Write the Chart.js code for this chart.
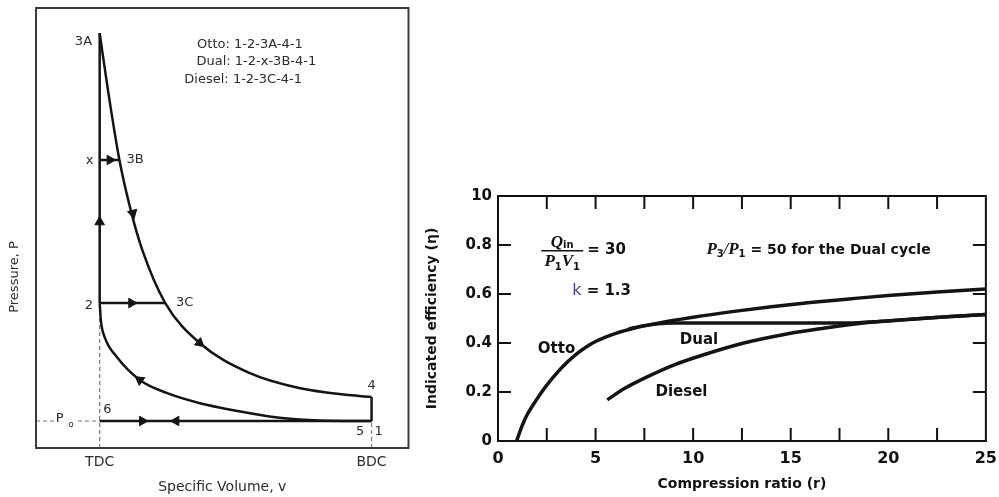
<!DOCTYPE html>
<html>
<head>
<meta charset="utf-8">
<script src="https://cdn.jsdelivr.net/npm/chart.js@4/dist/chart.umd.min.js"></script>
<style>
    body { margin: 0; background: #fff; width: 999px; height: 497px; overflow: hidden; position: relative; }
    #pv { position: absolute; left: 0; top: 0; }
    #eff { position: absolute; left: 415px; top: 0; }
</style>
</head>
<body>
<canvas id="pv" width="415" height="497"></canvas>
<canvas id="eff" width="590" height="497"></canvas>
<script>
// ---- left panel: P-v diagram (arbitrary units, TDC volume = 1, Po = 1)
var tdcV = 1.0
var bdcV = 5.27
var po = 1.0
var p2 = 5.37
var px = 10.67
var p3A = 15.37
var p4 = 1.89
var v3B = 1.31
var v3C = 2.03

var expV = [1.0, 1.13, 1.31, 1.50, 1.67, 2.03, 2.57, 3.35, 4.13, 4.91, 5.27]
var expP = [15.37, 13.26, 10.67, 8.70, 7.33, 5.37, 3.89, 2.78, 2.22, 1.96, 1.89]
var compV = [1.0, 1.02, 1.08, 1.27, 1.63, 2.05, 2.56, 3.34, 3.86, 4.44, 5.27]
var compP = [5.37, 4.7, 4.1, 3.37, 2.52, 2.04, 1.67, 1.30, 1.11, 1.02, 1.0]

var arrowV = [1.0, 1.16, 1.52, 1.50, 2.57, 1.63, 1.67, 2.20]
var arrowP = [8.37, 10.67, 8.70, 5.37, 3.89, 2.52, 1.0, 1.0]
var arrowDir = [0, 90, 166, 90, 130, 306, 90, 270]

var cycleLines = ['Otto: 1-2-3A-4-1', 'Dual: 1-2-x-3B-4-1', 'Diesel: 1-2-3C-4-1']

// ---- right panel: indicated efficiency vs compression ratio
var ottoR = [0.95, 1.25, 1.5, 2, 2.5, 3, 3.5, 4, 4.5, 5, 6, 7, 8, 10, 12, 14, 16, 18, 20, 22.5, 25]
var ottoEta = [0, 0.065, 0.108, 0.172, 0.228, 0.276, 0.318, 0.354, 0.383, 0.406, 0.438, 0.461, 0.478, 0.505, 0.528, 0.548, 0.565, 0.58, 0.594, 0.608, 0.62]
var dualR = [6.7, 7.5, 8.2, 9, 10, 12, 15, 17.5, 18.5, 19.5, 21.5, 23, 25]
var dualEta = [0.458, 0.471, 0.479, 0.482, 0.482, 0.482, 0.482, 0.482, 0.483, 0.488, 0.499, 0.507, 0.516]
var dieselR = [5.6, 6.5, 7.7, 9, 10.3, 12.6, 14.6, 16.5, 18.5, 20, 21.5, 23, 25]
var dieselEta = [0.168, 0.215, 0.264, 0.31, 0.346, 0.40, 0.434, 0.458, 0.48, 0.49, 0.499, 0.507, 0.516]
var yTickLabels = ['0', '0.2', '0.4', '0.6', '0.8', '10']

var black = '#141414'

function pts(xs, ys) {
    return xs.map((x, i) => ({ x: x, y: ys[i] }))
}

function seg(data, extra) {
    return Object.assign({
        data: data, showLine: true, fill: false,
        borderColor: black, borderWidth: 2.5, pointRadius: 0
    }, extra || {})
}

function drawRuns(c, x, y, parts) {
    parts.forEach(p => {
        c.font = p[1]
        c.fillText(p[0], x, y + (p[2] || 0))
        x += c.measureText(p[0]).width
    })
    return x
}

function runsWidth(c, parts) {
    var w = 0
    parts.forEach(p => { c.font = p[1]; w += c.measureText(p[0]).width })
    return w
}

var pvDecor = {
    id: 'pvDecor',
    afterDraw(chart) {
        var c = chart.ctx, a = chart.chartArea
        var X = v => chart.scales.x.getPixelForValue(v)
        var Y = p => chart.scales.y.getPixelForValue(p)
        c.save()
        c.strokeStyle = '#3a3a3a'
        c.lineWidth = 2
        c.strokeRect(a.left, a.top, a.right - a.left, a.bottom - a.top)

        // gap in the Po dashed line
        c.fillStyle = '#fff'
        c.fillRect(X(0.3), Y(po) - 8, X(0.63) - X(0.3), 16)

        c.fillStyle = '#2c2c2c'
        c.textBaseline = 'middle'
        c.font = '13px "DejaVu Sans"'
        var starts = [2.53, 2.52, 2.33]
        var heights = [14.96, 14.3, 13.63]
        cycleLines.forEach((t, i) => {
            c.textAlign = 'left'
            c.fillText(t, X(starts[i]), Y(heights[i]))
        })

        c.font = '13px "DejaVu Sans"'
        c.textAlign = 'right'
        c.fillText('3A', X(0.88), Y(15.07))
        c.textAlign = 'center'
        c.fillText('x', X(0.84), Y(10.63))
        c.fillText('2', X(0.83), Y(5.26))
        c.fillText('6', X(1.12), Y(1.41))
        c.fillText('4', X(bdcV), Y(2.3))
        c.fillText('5', X(5.09), Y(0.6))
        c.fillText('1', X(5.38), Y(0.6))
        c.textAlign = 'left'
        c.fillText('3B', X(1.42), Y(10.67))
        c.fillText('3C', X(2.2), Y(5.4))

        c.textAlign = 'center'
        c.font = '14px "DejaVu Sans"'
        c.fillText('TDC', X(tdcV), Y(-0.52))
        c.fillText('BDC', X(bdcV), Y(-0.52))
        c.fillText('Specific Volume, v', (a.left + a.right) / 2, 487)

        c.font = '13px "DejaVu Sans"'
        c.fillText('P', X(0.37), Y(po) - 2)
        c.font = '9px "DejaVu Sans"'
        c.fillText('o', X(0.55), Y(po) + 4)

        c.translate(15, 277)
        c.rotate(-Math.PI / 2)
        c.font = '13px "DejaVu Sans"'
        c.fillText('Pressure, P', 0, 0)
        c.restore()
    }
}

var effDecor = {
    id: 'effDecor',
    afterDraw(chart) {
        var c = chart.ctx, a = chart.chartArea
        var X = r => chart.scales.x.getPixelForValue(r)
        var Y = e => chart.scales.y.getPixelForValue(e)
        c.save()
        c.strokeStyle = '#111'
        c.lineWidth = 2
        c.strokeRect(a.left, a.top, a.right - a.left, a.bottom - a.top)
        c.beginPath()
        for (var r = 2.5; r < 25; r += 2.5) {
            c.moveTo(X(r), a.bottom); c.lineTo(X(r), a.bottom - 13)
            c.moveTo(X(r), a.top); c.lineTo(X(r), a.top + 13)
        }
        for (var k = 1; k <= 4; k++) {
            var e = k * 0.2
            c.moveTo(a.left, Y(e)); c.lineTo(a.left + 13, Y(e))
            c.moveTo(a.right, Y(e)); c.lineTo(a.right - 13, Y(e))
        }
        c.stroke()

        c.fillStyle = '#111'
        c.textBaseline = 'middle'
        c.textAlign = 'center'
        c.font = 'bold 15px "DejaVu Sans"'
        c.fillText('Otto', X(3.0), Y(0.375))
        c.fillText('Dual', X(10.3), Y(0.41))
        c.fillText('Diesel', X(9.4), Y(0.2))

        // Qin / (P1 V1) = 30
        c.textAlign = 'left'
        c.textBaseline = 'alphabetic'
        var serif = 'italic bold 17px "Liberation Serif"'
        var sub = 'bold 10px "DejaVu Sans"'
        var lineY = Y(0.777)
        var cx = X(3.29)
        var num = [['Q', serif], ['in', sub, 1]]
        var den = [['P', serif], ['1', sub, 4], ['V', serif], ['1', sub, 4]]
        drawRuns(c, cx - runsWidth(c, num) / 2, lineY - 4, num)
        drawRuns(c, cx - runsWidth(c, den) / 2, lineY + 15, den)
        c.lineWidth = 1.5
        c.beginPath()
        c.moveTo(cx - 21, lineY); c.lineTo(cx + 21, lineY)
        c.stroke()
        c.textBaseline = 'middle'
        c.font = 'bold 15px "DejaVu Sans"'
        c.fillText('= 30', X(4.57), lineY - 1)

        // k = 1.3
        c.fillStyle = '#5b3a7a'
        c.font = '16px "DejaVu Sans"'
        c.fillText('k', X(3.8), Y(0.612))
        var kw = c.measureText('k').width
        c.fillStyle = '#111'
        c.font = 'bold 15px "DejaVu Sans"'
        c.fillText(' = 1.3', X(3.8) + kw, Y(0.612))

        // P3/P1 = 50 for the Dual cycle
        c.textBaseline = 'alphabetic'
        var base = Y(0.783) + 5
        drawRuns(c, X(10.68), base, [
            ['P', serif], ['3', sub, 3], ['/', 'italic bold 16px "Liberation Serif"'],
            ['P', serif], ['1', sub, 3],
            [' = 50 for the Dual cycle', 'bold 14px "DejaVu Sans"']
        ])
        c.restore()
    }
}

window.onload = () => {
    var pvCtx = document.getElementById('pv').getContext('2d')
    var effCtx = document.getElementById('eff').getContext('2d')
    var dash = { borderDash: [4, 3], borderWidth: 1.2, borderColor: '#7a7a7a' }

    new Chart(pvCtx, {
        type: 'scatter',
        data: {
            datasets: [
                {
                    data: pts(arrowV, arrowP), showLine: false,
                    pointStyle: 'triangle', pointRadius: 5.5, rotation: arrowDir,
                    backgroundColor: black, borderColor: black, borderWidth: 1
                },
                seg(pts(expV, expP), { cubicInterpolationMode: 'monotone' }),
                seg(pts(compV, compP), { cubicInterpolationMode: 'monotone' }),
                seg(pts([tdcV, tdcV], [p2, p3A])),
                seg(pts([tdcV, v3C], [p2, p2])),
                seg(pts([tdcV, v3B], [px, px])),
                seg(pts([tdcV, bdcV], [po, po])),
                seg(pts([bdcV, bdcV], [p4, po])),
                seg(pts([tdcV, tdcV], [0, p2 - 0.4]), dash),
                seg(pts([0, tdcV], [po, po]), dash),
                seg(pts([bdcV, bdcV], [0, po]), dash)
            ]
        },
        options: {
            responsive: false,
            animation: false,
            layout: { padding: { left: 36, top: 8, right: 5, bottom: 49 } },
            plugins: { legend: { display: false }, tooltip: { enabled: false } },
            scales: {
                x: { type: 'linear', min: 0, max: 5.85, display: false },
                y: { type: 'linear', min: 0, max: 16.3, display: false }
            }
        },
        plugins: [pvDecor]
    })

    var tickFont = { family: 'DejaVu Sans', weight: 'bold', size: 16 }
    var lineStyle = {
        borderColor: black, borderWidth: 3.5, pointRadius: 0,
        fill: false, cubicInterpolationMode: 'monotone'
    }

    new Chart(effCtx, {
        type: 'line',
        data: {
            datasets: [
                Object.assign({ label: 'Otto', data: pts(ottoR, ottoEta) }, lineStyle),
                Object.assign({ label: 'Dual', data: pts(dualR, dualEta) }, lineStyle),
                Object.assign({ label: 'Diesel', data: pts(dieselR, dieselEta) }, lineStyle)
            ]
        },
        options: {
            responsive: false,
            animation: false,
            layout: { padding: { left: 0, top: 196, right: 13, bottom: 0 } },
            plugins: { legend: { display: false }, tooltip: { enabled: false } },
            scales: {
                x: {
                    type: 'linear', min: 0, max: 25,
                    ticks: { stepSize: 5, padding: 8, color: '#111', font: tickFont },
                    grid: { display: false, drawTicks: false },
                    border: { display: false },
                    title: {
                        display: true, text: 'Compression ratio (r)', color: '#111',
                        font: { family: 'DejaVu Sans', weight: 'bold', size: 14 },
                        padding: { top: 0, bottom: 4 }
                    },
                    afterFit: s => { s.height = 56 }
                },
                y: {
                    type: 'linear', min: 0, max: 1,
                    ticks: {
                        stepSize: 0.2, padding: 6, color: '#111',
                        font: { family: 'DejaVu Sans', weight: 'bold', size: 15 },
                        callback: (v, i) => yTickLabels[i]
                    },
                    grid: { display: false, drawTicks: false },
                    border: { display: false },
                    title: {
                        display: true, text: 'Indicated efficiency (η)', color: '#111',
                        font: { family: 'DejaVu Sans', weight: 'bold', size: 14 },
                        padding: { top: 9, bottom: 0 }
                    },
                    afterFit: s => { s.width = 83 }
                }
            }
        },
        plugins: [effDecor]
    })
}
</script>
</body>
</html>
